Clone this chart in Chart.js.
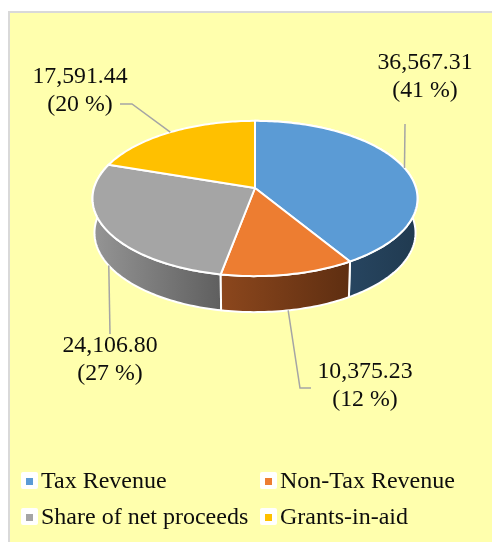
<!DOCTYPE html>
<html>
<head>
<meta charset="utf-8">
<style>
  html, body { margin: 0; padding: 0; background: #fff; }
  canvas { display: block; }
</style>
<script src="https://cdn.jsdelivr.net/npm/chart.js@4"></script>
</head>
<body>
<canvas id="revenue-chart" width="492" height="542"></canvas>
<script>
const categories = ["Tax Revenue", "Non-Tax Revenue", "Share of net proceeds", "Grants-in-aid"];
const revenueValues = [36567.31, 10375.23, 24106.80, 17591.44];
const sliceColors = ["#5b9bd5", "#ed7d31", "#a5a5a5", "#ffc000"];

// wall shading, left and right end of each slice's rim
const wallColors = [["#274560", "#203a50"], ["#8c471d", "#5e2e11"], ["#959595", "#5f5f5f"], ["#997300", "#997300"]];
// where the value labels sit, and the leader line bend next to each one
const labelBoxes = [
  { x: 425, y: 63, nudge: 0, leader: [[405, 124]] },
  { x: 365, y: 372, nudge: 0, leader: [[300, 388], [311, 388]] },
  { x: 110, y: 346, nudge: -0.015, leader: [[110, 334]] },
  { x: 80, y: 77, nudge: 0, leader: [[132, 104], [120, 104]] },
];
const legendSpots = [[23, 480], [262, 480], [23, 516], [262, 516]];

const LABEL_FONT = '23.8px "Liberation Serif"';
const LEGEND_FONT = '24px "Liberation Serif"';
const TILT = 0.135;
const SQUASH = 0.4735;

// the pie is tilted away from the viewer: near edge bigger than far edge
const project = (arc, angle) => {
  const u = Math.cos(angle);
  const v = Math.sin(angle);
  const d = 1 - TILT * v;
  return [arc.x + (arc.outerRadius * u) / d, arc.y + (arc.outerRadius * SQUASH * v) / d];
};

const wallDepth = (angle) => 34 + 2 * Math.sin(angle);

const lowerRim = (arc, angle) => {
  const p = project(arc, angle);
  return [arc.x + (p[0] - arc.x) * 0.988, p[1] + wallDepth(angle)];
};

const sampleAngles = (start, end) => {
  const out = [];
  const steps = Math.max(2, Math.ceil((end - start) / 0.02));
  for (let i = 0; i <= steps; i++) out.push(start + ((end - start) * i) / steps);
  return out;
};

const tracePoints = (ctx, pts) => {
  pts.forEach((p, i) => (i ? ctx.lineTo(p[0], p[1]) : ctx.moveTo(p[0], p[1])));
};

const framePlugin = {
  id: "frame",
  beforeDraw(chart) {
    const ctx = chart.ctx;
    ctx.fillStyle = "#ffffad";
    ctx.fillRect(9, 12, 483, 530);
    ctx.strokeStyle = "#d9d9d9";
    ctx.lineWidth = 2;
    ctx.beginPath();
    ctx.moveTo(9, 542);
    ctx.lineTo(9, 12);
    ctx.lineTo(492, 12);
    ctx.stroke();
  },
};

const pie3dPlugin = {
  id: "pie3d",
  beforeDatasetsDraw(chart) {
    const ctx = chart.ctx;
    const arcs = chart.getDatasetMeta(0).data;
    ctx.save();
    ctx.lineJoin = "round";

    // walls first, the top faces cover the hidden part of them
    [0, 2, 1].forEach((i) => {
      const arc = arcs[i];
      const angles = sampleAngles(arc.startAngle, arc.endAngle);
      const top = angles.map((a) => project(arc, a));
      const bottom = angles.map((a) => lowerRim(arc, a)).reverse();
      const xs = top.filter((p, k) => Math.sin(angles[k]) > -0.1).map((p) => p[0]);
      const grad = ctx.createLinearGradient(Math.min(...xs), 0, Math.max(...xs), 0);
      grad.addColorStop(0, wallColors[i][0]);
      grad.addColorStop(1, wallColors[i][1]);
      ctx.beginPath();
      tracePoints(ctx, top.concat(bottom));
      ctx.closePath();
      ctx.fillStyle = grad;
      ctx.fill();
      ctx.strokeStyle = "#fff";
      ctx.lineWidth = 2;
      ctx.stroke();
    });

    arcs.forEach((arc, i) => {
      const rim = sampleAngles(arc.startAngle, arc.endAngle).map((a) => project(arc, a));
      ctx.beginPath();
      tracePoints(ctx, [[arc.x, arc.y]].concat(rim));
      ctx.closePath();
      ctx.fillStyle = sliceColors[i];
      ctx.fill();
      ctx.strokeStyle = "#fff";
      ctx.lineWidth = 2;
      ctx.stroke();
    });
    ctx.restore();
    return false;
  },
  // returning false above also skips afterDatasetsDraw, so labels go here
  afterDraw(chart) {
    const ctx = chart.ctx;
    const arcs = chart.getDatasetMeta(0).data;
    const total = revenueValues.reduce((a, b) => a + b, 0);
    ctx.save();
    ctx.font = LABEL_FONT;
    ctx.textAlign = "center";
    ctx.textBaseline = "middle";
    arcs.forEach((arc, i) => {
      const box = labelBoxes[i];
      const mid = (arc.startAngle + arc.endAngle) / 2 + box.nudge;
      // leaders on the front of the pie start from the lower rim
      const from = Math.sin(mid) > 0.3 ? lowerRim(arc, mid) : project(arc, mid);
      ctx.beginPath();
      tracePoints(ctx, [from].concat(box.leader));
      ctx.strokeStyle = "#a5a5a5";
      ctx.lineWidth = 1.5;
      ctx.stroke();

      const value = revenueValues[i].toLocaleString("en-US", { minimumFractionDigits: 2 });
      const share = Math.round((revenueValues[i] / total) * 100);
      ctx.fillStyle = "#0d0d0d";
      ctx.fillText(value, box.x, box.y);
      ctx.fillText("(" + share + " %)", box.x, box.y + 28);
    });
    ctx.restore();
  },
};

const legendPlugin = {
  id: "squareLegend",
  afterDraw(chart) {
    const ctx = chart.ctx;
    ctx.save();
    ctx.font = LEGEND_FONT;
    ctx.textAlign = "left";
    ctx.textBaseline = "middle";
    categories.forEach((name, i) => {
      const [x, y] = legendSpots[i];
      ctx.fillStyle = "#fff";
      ctx.beginPath();
      ctx.roundRect(x - 2, y - 8, 17, 17, 2);
      ctx.fill();
      ctx.fillStyle = sliceColors[i];
      ctx.fillRect(x + 3, y - 2, 7, 7);
      ctx.fillStyle = "#0d0d0d";
      ctx.fillText(name, x + 18, y + 2);
    });
    ctx.restore();
  },
};

new Chart(document.getElementById("revenue-chart"), {
  type: "pie",
  data: {
    labels: categories,
    datasets: [{ data: revenueValues, backgroundColor: sliceColors, borderWidth: 0 }],
  },
  options: {
    responsive: false,
    animation: false,
    events: [],
    layout: { padding: { left: 94, right: 76, top: 27, bottom: 193 } },
    plugins: { legend: { display: false }, tooltip: { enabled: false } },
  },
  plugins: [framePlugin, pie3dPlugin, legendPlugin],
});
</script>
</body>
</html>
